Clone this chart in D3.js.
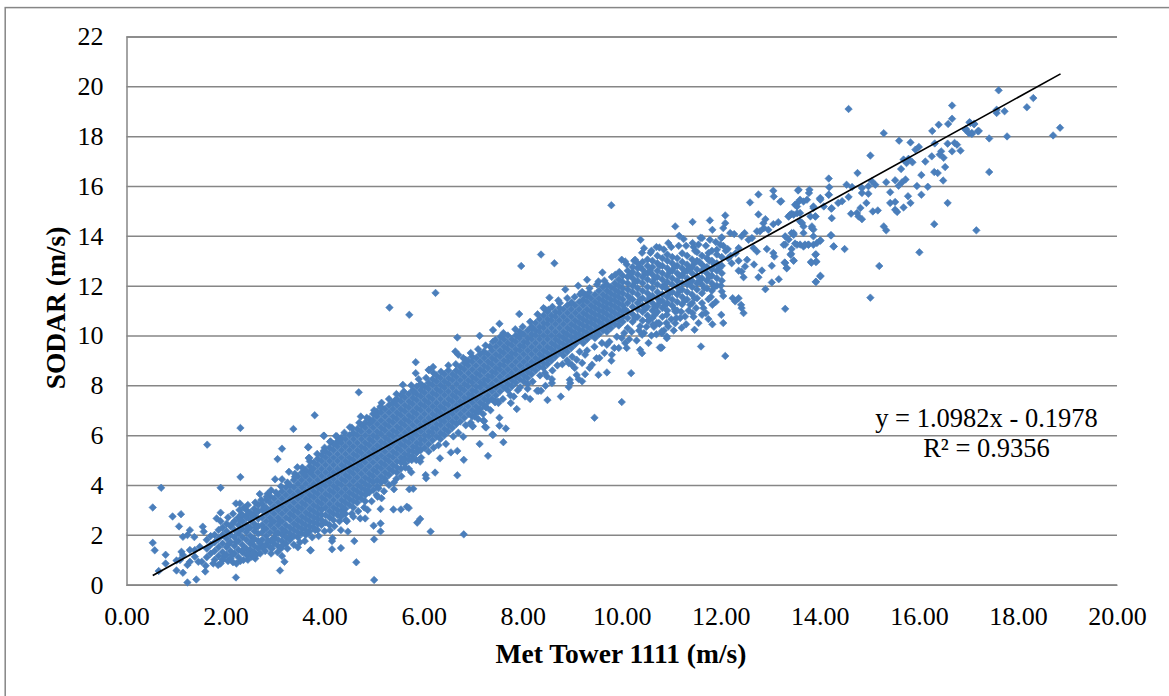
<!DOCTYPE html>
<html>
<head>
<meta charset="utf-8">
<style>
  body { margin: 0; background: #fff; }
  text { font-family: "Liberation Serif", serif; fill: #000; }
</style>
<script src="https://cdn.jsdelivr.net/npm/d3@7"></script>
</head>
<body>
<svg id="chart" width="1169" height="696"></svg>
<script>
const xTicks = [0, 2, 4, 6, 8, 10, 12, 14, 16, 18, 20]
const yTicks = [0, 2, 4, 6, 8, 10, 12, 14, 16, 18, 20, 22]
const trendX = [0.53, 18.86]
const trendY = [0.37, 20.5]
const equationLines = ["y = 1.0982x - 0.1978", "R² = 0.9356"]

const coreLow = [
  [1.62,[1.1,1.45,1.8]],[1.7,[1.25,1.6,1.95]],[1.78,[1.0,1.35,1.7,2.0]],[1.86,[1.15,1.5,1.85,2.2]],
  [1.94,[1.0,1.3,1.65,2.0,2.3]],[2.02,[1.2,1.5,1.85,2.15,2.45]],[2.1,[1.05,1.35,1.7,2.0,2.35]],
  [2.18,[1.25,1.55,1.9,2.2,2.55]],[2.26,[1.1,1.4,1.75,2.05,2.4,2.7]],[2.34,[1.3,1.6,1.9,2.25,2.55,2.8]],
  [2.42,[1.2,1.45,1.8,2.1,2.4,2.7,3.0]],[2.5,[1.4,1.65,1.95,2.3,2.6,2.9]],[2.58,[1.3,1.55,1.85,2.15,2.45,2.75,3.05]],
  [2.66,[1.45,1.75,2.05,2.35,2.65,2.95,3.2]],[2.74,[1.5,1.8,2.1,2.4,2.7,3.0,3.25]],[2.82,[1.6,1.95,2.25,2.55,2.85,3.1,3.4]],
  [2.9,[1.5,1.75,2.1,2.4,2.7,3.0,3.3,3.55]],[2.98,[1.65,1.9,2.25,2.55,2.85,3.15,3.45]],[3.06,[1.55,1.8,2.1,2.4,2.7,3.0,3.3,3.6]],
  [3.14,[1.75,2.0,2.25,2.55,2.85,3.15,3.45,3.75]],[3.22,[1.65,1.9,2.15,2.4,2.7,3.0,3.3,3.6,3.9]],
  [3.3,[1.85,2.05,2.3,2.6,2.85,3.15,3.45,3.75,4.0]],[3.38,[1.95,2.2,2.45,2.75,3.0,3.3,3.6,3.9,4.2]],
  [3.46,[1.9,2.1,2.35,2.6,2.9,3.15,3.45,3.75,4.05,4.35]],[3.54,[2.05,2.25,2.5,2.75,3.05,3.3,3.6,3.9,4.2,4.5]],
  [3.62,[2.0,2.2,2.4,2.65,2.9,3.2,3.45,3.75,4.05,4.35,4.6]],[3.7,[2.15,2.35,2.55,2.8,3.05,3.35,3.6,3.9,4.2,4.5,4.75]],
  [3.78,[2.3,2.5,2.7,2.95,3.2,3.5,3.75,4.05,4.35,4.65,4.9]],[3.86,[2.2,2.45,2.65,2.85,3.1,3.35,3.65,3.9,4.2,4.5,4.8,5.05]],
  [3.94,[2.4,2.6,2.8,3.0,3.25,3.5,3.8,4.05,4.35,4.65,4.95,5.2]]
]

const coreMid = [
  [4.02,[2.5,2.8,3.1,3.4,3.65,3.95,4.2,4.5,4.8,5.1,5.35]],[4.1,[2.7,2.95,3.25,3.55,3.8,4.1,4.35,4.65,4.95,5.25,5.5]],
  [4.18,[2.6,2.85,3.1,3.4,3.7,3.95,4.25,4.5,4.8,5.1,5.4,5.65]],[4.26,[2.8,3.0,3.25,3.55,3.85,4.1,4.4,4.65,4.95,5.25,5.55,5.75]],
  [4.34,[2.95,3.15,3.4,3.7,4.0,4.25,4.55,4.8,5.1,5.4,5.7,5.9]],[4.42,[2.85,3.05,3.3,3.55,3.85,4.15,4.4,4.7,4.95,5.25,5.55,5.85]],
  [4.5,[3.2,3.45,3.7,4.0,4.3,4.55,4.85,5.1,5.4,5.7,6.0]],[4.58,[3.1,3.35,3.6,3.85,4.15,4.45,4.7,5.0,5.25,5.55,5.85,6.1]],
  [4.66,[3.3,3.5,3.75,4.0,4.3,4.6,4.85,5.15,5.4,5.7,6.0,6.25]],[4.74,[3.45,3.65,3.9,4.15,4.45,4.75,5.0,5.3,5.55,5.85,6.15,6.4]],
  [4.82,[3.35,3.6,3.8,4.05,4.3,4.6,4.9,5.15,5.45,5.7,6.0,6.3,6.5]],[4.9,[3.7,3.95,4.2,4.45,4.75,5.05,5.3,5.6,5.85,6.15,6.45,6.65]],
  [4.98,[3.8,4.1,4.35,4.6,4.9,5.2,5.45,5.75,6.0,6.3,6.6,6.85]],[5.06,[3.95,4.2,4.5,4.75,5.05,5.35,5.6,5.9,6.15,6.45,6.75,6.95]],
  [5.14,[4.1,4.35,4.65,4.9,5.2,5.5,5.75,6.05,6.3,6.6,6.9,7.1]],[5.22,[4.25,4.5,4.8,5.05,5.35,5.65,5.9,6.2,6.45,6.75,7.05]],
  [5.3,[4.4,4.65,4.95,5.2,5.5,5.8,6.05,6.35,6.6,6.9,7.2]],[5.38,[4.55,4.8,5.1,5.35,5.65,5.95,6.2,6.5,6.75,7.05,7.3]],
  [5.46,[4.5,4.7,4.95,5.25,5.5,5.8,6.1,6.35,6.65,6.9,7.2,7.45]],[5.54,[4.65,4.9,5.1,5.4,5.65,5.95,6.25,6.5,6.8,7.05,7.35,7.6]],
  [5.62,[4.85,5.05,5.25,5.55,5.8,6.1,6.4,6.65,6.95,7.2,7.5]],[5.7,[5.0,5.2,5.4,5.7,5.95,6.25,6.55,6.8,7.1,7.35,7.65]],
  [5.78,[5.15,5.35,5.55,5.85,6.1,6.4,6.7,6.95,7.25,7.5,7.8]],[5.86,[5.3,5.5,5.7,6.0,6.25,6.55,6.85,7.1,7.4,7.65,7.95]],
  [5.94,[5.4,5.65,5.85,6.15,6.4,6.7,7.0,7.25,7.55,7.8,8.05]],[6.02,[5.5,5.8,6.0,6.3,6.55,6.85,7.15,7.4,7.7,7.95]],
  [6.1,[5.65,5.95,6.15,6.45,6.7,7.0,7.3,7.55,7.85,8.1]],[6.18,[5.8,6.1,6.3,6.6,6.85,7.15,7.45,7.7,8.0,8.25]],
  [6.26,[5.95,6.25,6.45,6.75,7.0,7.3,7.6,7.85,8.15,8.4]],[6.34,[5.85,6.1,6.4,6.6,6.9,7.15,7.45,7.75,8.0,8.3]],
  [6.42,[6.0,6.25,6.55,6.75,7.05,7.3,7.6,7.9,8.15,8.45]],[6.5,[6.15,6.4,6.7,6.9,7.2,7.45,7.75,8.05,8.3,8.6]],
  [6.58,[6.3,6.55,6.85,7.05,7.35,7.6,7.9,8.2,8.45]],[6.66,[6.45,6.7,7.0,7.2,7.5,7.75,8.05,8.35,8.6]],
  [6.74,[6.55,6.85,7.15,7.35,7.65,7.9,8.2,8.5,8.75]],[6.82,[6.7,7.0,7.3,7.5,7.8,8.05,8.35,8.65,8.9]],
  [6.9,[6.85,7.15,7.45,7.65,7.95,8.2,8.5,8.8,9.0]],[6.98,[6.75,7.0,7.3,7.6,7.8,8.1,8.35,8.65,8.95,9.15]],
  [7.06,[6.9,7.15,7.45,7.75,7.95,8.25,8.5,8.8,9.1]],[7.14,[7.05,7.3,7.6,7.9,8.1,8.4,8.65,8.95,9.25]],
  [7.22,[7.2,7.45,7.75,8.05,8.25,8.55,8.8,9.1]],[7.3,[7.35,7.6,7.9,8.2,8.4,8.7,8.95,9.25]],
  [7.38,[7.45,7.75,8.05,8.35,8.55,8.85,9.1,9.4]],[7.46,[7.6,7.9,8.2,8.5,8.7,9.0,9.25,9.55]],
  [7.54,[7.75,8.05,8.35,8.65,8.85,9.15,9.4,9.7]],[7.62,[7.9,8.2,8.5,8.8,9.0,9.3,9.55,9.85]],
  [7.7,[7.8,8.05,8.35,8.65,8.95,9.15,9.45,9.7]],[7.78,[7.95,8.2,8.5,8.8,9.1,9.3,9.6,9.85]],
  [7.86,[8.1,8.35,8.65,8.95,9.25,9.45,9.75,10.0]],[7.94,[8.25,8.5,8.8,9.1,9.4,9.6,9.9,10.15]]
]

const coreHigh = [
  [8.02,[8.15,8.4,8.65,8.95,9.25,9.55,9.75,10.05]],[8.1,[8.3,8.55,8.8,9.1,9.4,9.7,9.9,10.2]],
  [8.18,[8.45,8.7,8.95,9.25,9.55,9.85,10.05,10.35]],[8.26,[8.6,8.85,9.1,9.4,9.7,10.0,10.2,10.5]],
  [8.34,[8.75,9.0,9.25,9.55,9.85,10.15,10.35,10.65]],[8.42,[8.7,8.9,9.15,9.4,9.7,10.0,10.3,10.5,10.8]],
  [8.5,[8.85,9.05,9.3,9.55,9.85,10.15,10.45,10.65,10.95]],[8.58,[9.0,9.2,9.45,9.7,10.0,10.3,10.6,10.8]],
  [8.66,[9.15,9.35,9.6,9.85,10.15,10.45,10.75,10.95]],[8.74,[9.3,9.5,9.75,10.0,10.3,10.6,10.9,11.1]],
  [8.82,[9.2,9.45,9.65,9.9,10.15,10.45,10.75,11.05]],[8.9,[9.35,9.6,9.8,10.05,10.3,10.6,10.9,11.2]],
  [8.98,[9.5,9.75,9.95,10.2,10.45,10.75,11.05,11.3]],[9.06,[9.65,9.9,10.1,10.35,10.6,10.9,11.2]],
  [9.14,[9.8,10.05,10.25,10.5,10.75,11.05,11.35]],[9.22,[9.7,9.95,10.2,10.4,10.65,10.9,11.2,11.45]],
  [9.3,[9.85,10.1,10.35,10.55,10.8,11.05,11.35,11.6]],[9.38,[10.0,10.25,10.5,10.7,10.95,11.2,11.5]],
  [9.46,[9.9,10.15,10.4,10.65,10.85,11.1,11.35,11.65]],[9.54,[10.05,10.3,10.55,10.8,11.0,11.25,11.5,11.8]],
  [9.62,[10.2,10.45,10.7,10.95,11.15,11.4,11.65,11.95]],[9.7,[10.15,10.35,10.6,10.85,11.1,11.3,11.55,11.8,12.05]],
  [9.78,[10.3,10.5,10.75,11.0,11.25,11.45,11.7,11.95]],[9.86,[10.45,10.65,10.9,11.15,11.4,11.6,11.85,12.1]],
  [9.94,[10.4,10.6,10.8,11.05,11.3,11.55,11.75,12.0,12.25]],[10.02,[10.55,10.75,10.95,11.2,11.45,11.7,11.9,12.15,12.4]],
  [10.12,[10.3,10.7,10.95,11.3,11.6,11.85,12.1,12.35,12.6]],[10.22,[10.55,10.85,11.15,11.45,11.75,12.0,12.3,12.55,12.75]],
  [10.32,[10.75,11.05,11.3,11.65,11.9,12.2,12.45,12.7,12.9]],[10.42,[10.6,10.95,11.2,11.5,11.8,12.1,12.35,12.65,12.95]],
  [10.52,[10.8,11.15,11.4,11.7,11.95,12.25,12.5,12.8,13.05]],[10.62,[10.7,11.0,11.3,11.6,11.9,12.15,12.45,12.75,13.0]],
  [10.72,[10.95,11.2,11.5,11.75,12.05,12.35,12.6,12.9,13.2]],[10.82,[10.75,11.1,11.4,11.65,11.95,12.25,12.5,12.8,13.1]],
  [10.92,[11.0,11.3,11.55,11.85,12.15,12.4,12.7,13.0,13.25]],[11.02,[11.2,11.45,11.75,12.05,12.3,12.6,12.9,13.15]],
  [11.12,[11.0,11.35,11.65,11.95,12.2,12.5,12.8,13.1]],[11.22,[11.25,11.55,11.85,12.1,12.4,12.7,12.95,13.3]],
  [11.32,[11.45,11.75,12.05,12.3,12.6,12.85,13.2]],[11.42,[11.3,11.65,11.95,12.2,12.5,12.75,13.05]],
  [11.52,[11.5,11.85,12.1,12.4,12.65,13.0,13.35]],[11.62,[11.7,12.05,12.3,12.6,12.85,13.2]],
  [11.72,[11.9,12.2,12.5,12.75,13.1]],[11.82,[11.8,12.1,12.4,12.65,13.0,13.4]],
  [11.92,[12.0,12.3,12.6,12.9,13.25]],[12.02,[12.2,12.5,12.8,13.15]]
]

// edges of the cloud
const upperEdge = [
  [1.9,2.55],[2.05,2.7],[2.15,2.85],[2.28,3.0],[2.45,3.2],[2.6,3.3],[2.72,3.4],[2.85,3.65],[3.02,3.7],[3.12,3.95],
  [3.25,4.1],[3.4,4.45],[3.55,4.7],[3.7,4.95],[3.85,5.25],[4.0,5.5],[4.12,5.75],[4.25,5.95],[4.4,6.1],[4.55,6.3],
  [4.7,6.5],[4.85,6.7],[5.0,7.0],[5.15,7.3],[5.3,7.45],[5.45,7.65],[5.6,7.75],[5.75,8.0],[5.9,8.25],[6.05,8.3],
  [6.2,8.5],[6.35,8.55],[6.5,8.8],[6.65,8.85],[6.8,9.1],[6.95,9.3],[7.1,9.45],[7.25,9.6],[7.4,9.75],[7.55,9.95],
  [7.7,10.0],[7.85,10.25],[8.0,10.35],[8.15,10.55],[8.3,10.85],[8.45,11.05],[8.6,11.15],[8.75,11.3],[8.9,11.5],[9.05,11.55],
  [9.2,11.75],[9.35,11.9],[9.5,12.05],[9.65,12.2],[9.8,12.35],[9.95,12.55],[10.1,12.85],[10.25,13.0],[10.45,13.5],[10.6,13.4],
  [10.7,13.55],[10.85,13.45],[11.0,13.55],[11.15,13.6],[11.3,13.6],[11.45,13.55],[11.55,13.65],[11.7,13.6],[11.9,13.75],[12.05,13.6],
  [12.1,13.4],[12.15,13.1],[12.2,13.2],[12.3,13.3]
]

const lowerEdge = [
  [1.75,0.85],[1.9,0.85],[2.05,0.95],[2.15,0.9],[2.3,0.95],[2.45,1.0],[2.6,1.05],[2.7,1.25],[2.8,1.35],[2.92,1.25],
  [3.05,1.3],[3.12,1.45],[3.25,1.45],[3.38,1.6],[3.5,1.7],[3.6,1.75],[3.75,1.9],[3.88,1.95],[4.0,2.15],[4.1,2.4],
  [4.2,2.35],[4.3,2.55],[4.45,2.55],[4.55,2.85],[4.68,2.95],[4.8,3.1],[4.95,3.35],[5.05,3.6],[5.2,3.75],[5.3,4.0],
  [5.45,4.25],[5.55,4.35],[5.7,4.65],[5.85,5.0],[5.95,5.1],[6.1,5.35],[6.2,5.5],[6.3,5.6],[6.45,5.65],[6.6,5.95],
  [6.7,6.1],[6.85,6.4],[6.95,6.5],[7.1,6.65],[7.2,6.85],[7.35,7.0],[7.5,7.35],[7.6,7.45],[7.75,7.6],[7.9,7.8],
  [8.1,8.05],[8.2,8.15],[8.35,8.4],[8.45,8.5],[8.6,8.6],[8.7,8.8],[8.8,8.85],[8.9,9.0],[9.0,9.15],[9.05,8.7],
  [9.15,9.35],[9.2,8.9],[9.3,9.4],[9.35,8.7],[9.45,9.55],[9.55,9.1],[9.6,9.7],[9.65,9.3],[9.75,9.75],[9.85,9.5],
  [9.9,9.95],[10.0,9.9],[10.05,10.1],[10.15,9.85],[10.2,10.15],[10.3,9.8],[10.35,10.2],[10.45,10.1],[10.5,10.35],[10.6,10.0],
  [10.65,10.35],[10.7,10.05],[10.75,10.5],[10.85,10.2],[10.9,10.5],[11.0,10.65],[11.05,10.2],[11.1,10.7],[11.2,10.95],[11.3,10.45],
  [11.35,11.0],[11.45,10.75],[11.5,11.1],[11.55,10.5],[11.65,11.1],[11.7,10.9],[11.8,11.55],[11.9,11.35],[12.0,12.0]
]

const fillerLeft = [
  [1.98,1.15],[2.06,1.62],[2.14,1.2],[2.22,1.72],[2.3,2.2],[2.38,1.45],[2.46,2.25],[2.54,1.75],[2.62,2.3],[2.7,1.65],
  [2.78,2.25],[2.86,1.75],[2.94,2.55],[3.02,2.05],[3.1,2.55],[3.18,2.15],[2.46,1.25],[2.62,1.2],[2.78,1.55],[2.94,1.45],
  [2.14,2.45],[2.3,2.6],[2.46,2.85],[2.62,2.9],[2.78,3.1]
]

const fillerRight = [
  [10.17,11.5],[10.27,12.15],[10.37,11.45],[10.47,12.5],[10.57,11.55],[10.67,12.3],[10.77,11.35],[10.87,12.05],[10.97,11.7],
  [11.07,12.75],[11.17,11.8],[11.27,12.55],[11.37,12.15],[11.47,12.9],[11.57,12.2],[11.67,12.75],[11.77,12.35],[11.87,12.85],
  [10.07,11.05],[10.17,12.45],[10.27,10.7],[10.37,12.75],[10.47,11.05],[10.57,12.6],[10.67,11.15],[10.77,12.8],[10.87,11.2],
  [10.97,12.55],[11.07,11.05],[11.17,12.4],[11.27,11.4],[11.37,12.7],[11.47,11.5],[11.57,12.95],[11.67,11.9],[11.77,13.0],
  [11.87,11.95],[11.97,12.7]
]

// scattered points around the cloud
const scatterLow = [
  [2.3,6.29],[3.37,6.25],[3.99,5.98],[1.63,5.62],[3.14,5.46],[3.67,5.53],[3.05,5.04],[3.68,5.08],[2.3,4.32],[0.7,3.89],
  [1.9,3.89],[0.53,3.1],[0.93,2.74],[1.1,2.83],[1.06,2.34],[0.53,1.68],[0.57,1.38],[0.79,1.2],[0.79,0.85],[0.65,0.55],
  [1.01,0.97],[1.01,0.57],[1.14,0.48],[1.23,0.09],[1.41,0.21],[1.59,0.53],[2.21,0.29],[3.1,0.57],[3.19,0.92],[3.14,1.15],
  [3.46,1.5],[3.72,1.38],[1.28,2.19],[1.14,1.92],[1.23,1.99],[1.37,1.91],[1.54,2.33],[1.56,2.13],[1.82,2.66],[1.9,2.89],
  [1.11,1.32],[1.28,1.39],[1.14,1.19],[1.08,0.99],[1.23,0.79],[1.28,0.92],[1.38,1.12],[1.45,0.92],[1.52,0.92],[1.6,0.76],
  [1.38,1.39],[1.48,1.52],[2.21,3.26],[2.29,3.26],[2.37,3.1],[2.32,2.82],[2.53,2.79],[2.69,3.64],[2.92,3.79],[2.83,3.53],
  [3.0,4.23],[3.14,4.23],[3.28,4.53],[3.45,4.71],[3.4,4.33],[3.6,4.4],[3.72,4.51],[1.85,0.79],[1.95,1.01],[2.22,0.85],
  [2.36,0.99],[2.53,1.12],[2.59,1.19],[2.96,1.79],[3.16,1.59],[3.3,1.79],[4.69,7.72],[5.58,8.02],[5.97,7.99],[5.8,7.74],
  [3.8,6.8],[4.73,6.75],[5.13,7.15],[4.51,6.32],[3.98,5.98],[3.67,5.51],[3.69,5.09],[3.98,5.37],[4.23,5.97],[4.11,5.74],
  [4.3,5.77],[5.42,7.39],[5.04,6.81],[4.95,6.55],[5.84,8.49],[6.1,8.62],[5.84,8.93],[6.11,8.62],[6.19,8.74],[5.31,11.12],
  [5.71,10.83],[6.24,11.71],[6.68,9.92],[6.64,9.36],[6.7,9.23],[6.85,9.02]
]

const scatterBelow = [
  [7.4,6.01],[7.13,5.65],[7.3,5.17],[6.8,5.94],[6.81,5.01],[6.68,5.37],[6.55,5.31],[6.33,5.07],[6.68,4.39],[6.23,4.5],
  [6.04,4.4],[6.05,4.27],[5.75,4.51],[5.79,3.85],[5.71,3.83],[5.4,3.83],[5.4,4.1],[5.22,4.16],[5.66,3.13],[5.7,3.08],
  [5.54,3.02],[5.39,3.02],[5.13,3.04],[4.87,3.0],[5.15,3.47],[5.07,3.53],[5.93,2.64],[5.87,2.49],[6.14,2.13],[6.81,2.02],
  [5.13,2.46],[4.99,2.37],[5.13,2.14],[5.0,1.82],[4.6,1.75],[4.47,2.13],[4.33,2.19],[4.16,1.86],[4.15,1.75],[4.15,1.42],
  [4.33,1.47],[3.71,1.38],[4.64,0.9],[5.0,0.19],[3.67,2.06],[3.81,2.19],[4.11,2.19],[4.72,2.66],[4.82,2.66],[4.58,2.73],
  [4.38,2.86],[4.33,2.73],[4.43,2.6],[5.09,3.87],[4.87,3.73],[5.63,4.7],[5.76,5.0],[5.93,4.94],[5.59,5.01],[7.24,6.34],
  [6.99,6.37],[7.21,6.59],[7.26,7.11],[7.44,7.32],[7.53,6.7],[7.53,6.38],[7.66,6.27],[7.22,6.56],[7.26,6.31],[6.99,6.35],
  [7.39,6.03],[7.61,5.72],[7.11,6.95],[7.03,6.75],[7.51,7.29],[7.45,7.35],[7.26,7.13],[7.88,7.05],[7.76,7.29],[7.82,7.55],
  [8.15,7.45],[8.05,7.55],[8.77,7.55],[8.5,7.41],[8.96,8.09],[8.93,7.93],[9.09,8.42],[9.13,8.25],[9.2,8.16],[8.59,8.09],
  [8.46,7.98],[8.32,7.78],[8.37,7.78],[7.95,7.92],[8.1,7.86],[8.29,7.78],[8.49,8.36],[8.59,8.25],[8.95,8.22],[8.93,8.89],
  [8.99,8.83],[9.09,9.03],[9.26,9.23],[9.4,8.83],[9.49,9.09],[9.8,9.23],[9.79,8.99],[9.7,9.63],[9.94,9.5],[10.07,9.7],
  [10.1,9.5],[10.41,9.29],[10.37,9.43],[10.54,9.7],[10.79,9.5],[10.81,10.17],[10.91,9.96],[10.41,10.03],[10.37,10.37],
  [10.54,10.61],[10.71,10.5],[10.0,7.33],[9.45,6.7],[10.19,8.49],[9.7,8.52],[9.53,8.42],[9.26,8.45]
]

const scatterAbove = [
  [9.12,12.0],[8.86,11.85],[9.3,12.24],[8.54,11.52],[8.72,11.41],[8.99,11.33],[9.16,11.66],[9.26,11.64],[9.34,11.73],[7.93,10.86],
  [8.42,11.1],[8.52,11.03],[7.53,10.47],[7.4,10.22],[7.13,9.99],[7.61,10.1],[7.97,10.07],[8.19,10.3],[7.45,9.83],[7.22,9.36],
  [7.34,9.56],[9.79,15.23],[7.97,12.79],[8.37,13.25],[8.64,12.9],[9.61,12.53],[9.53,12.17],[9.87,12.44],[10.0,13.04],[10.07,12.97],
  [10.27,13.04],[10.41,13.32],[10.58,13.32],[11.59,13.92],[12.02,13.94]
]

const scatterEnd = [
  [12.76,15.66],[13.07,15.58],[13.06,15.81],[12.59,15.34],[13.2,15.37],[13.56,15.82],[13.78,15.72],[14.18,15.65],[14.0,15.49],[13.54,15.31],
  [13.67,15.38],[13.87,15.18],[14.24,15.11],[12.76,14.86],[12.09,14.82],[12.09,14.51],[12.05,14.31],[11.43,14.56],[11.08,14.38],[11.78,14.62],
  [11.83,14.24],[12.9,14.67],[12.86,14.51],[12.87,14.31],[12.96,14.24],[13.06,14.47],[13.16,14.55],[13.37,14.78],[13.43,14.89],[13.54,14.91],
  [13.6,14.58],[13.67,14.38],[13.84,14.31],[13.91,14.78],[14.24,14.71],[12.19,14.11],[12.27,14.07],[12.48,14.11],[12.42,13.98],[12.73,14.18],
  [12.79,14.18],[11.16,14.0],[11.25,13.87],[11.62,13.91],[11.78,13.84],[12.01,13.91],[11.99,13.64],[11.43,13.71],[10.94,13.71],[10.76,13.53],
  [10.38,13.84],[11.48,13.4],[11.75,13.31],[11.92,13.44],[12.14,13.47],[12.36,13.51],[12.56,13.84],[12.63,13.91],[12.66,13.51],[12.73,13.37],
  [12.93,13.47],[13.06,13.31],[13.08,13.17],[13.3,13.98],[13.27,13.64],[13.43,14.11],[13.47,14.04],[13.43,13.47],[13.41,13.24],[13.47,13.01],
  [13.54,13.64],[13.67,13.57],[13.77,13.64],[13.87,13.64],[14.01,13.8],[14.22,14.02],[14.28,13.57],[13.91,13.24],[13.93,12.97],[13.82,12.95],
  [13.29,12.93],[13.33,12.7],[13.03,12.8],[12.67,12.85],[12.36,13.0],[12.22,12.9],[12.53,13.04],[12.49,12.77],[12.42,12.57],[12.36,12.6],
  [12.46,12.34],[12.83,12.61],[12.76,12.34],[13.17,12.26],[13.03,12.13],[12.9,11.86],[14.01,12.4],[13.92,12.16],[13.3,11.07],[12.24,11.5],
  [12.36,11.5],[12.29,11.37],[12.41,11.23],[12.42,11.1],[12.46,10.9],[12.01,10.83],[12.05,10.5],[11.75,11.46],[11.83,11.23],[12.05,11.59],
  [12.02,11.77],[11.62,10.83],[11.75,10.66],[11.83,10.45],[11.21,10.31],[11.08,10.49],[10.94,10.36],[11.47,10.23],[11.6,9.56],[12.09,9.18],
  [10.77,9.52],[10.81,9.52],[10.91,9.89],[10.81,10.09],[10.76,10.47],[10.63,10.43],[10.54,10.59],[11.28,10.76],[11.18,10.7],[11.43,10.9],
  [11.62,11.3],[11.38,11.23],[11.08,10.96],[10.91,10.83],[10.67,10.83]
]

const scatterTop = [
  [14.58,19.09],[16.67,19.23],[16.67,18.7],[15.29,18.12],[16.4,18.46],[16.59,18.49],[16.27,18.21],[17.02,18.56],[17.11,18.49],[16.95,18.29],
  [17.07,18.13],[17.19,18.2],[15.6,17.82],[15.83,17.75],[16.32,17.71],[16.58,17.7],[16.72,17.73],[16.77,17.66],[16.0,17.57],[15.93,17.46],
  [16.84,17.42],[16.67,17.39],[16.45,17.39],[16.42,17.26],[16.26,17.19],[16.5,17.13],[15.02,17.22],[15.69,17.06],[15.79,17.09],[15.87,16.95],
  [15.75,16.92],[16.13,16.98],[16.53,16.76],[15.64,16.68],[14.76,16.52],[16.31,16.56],[16.38,16.52],[16.05,16.44],[14.18,16.3],[16.49,16.22],
  [15.34,16.15],[15.52,16.23],[15.73,16.26],[15.66,16.15],[15.59,16.01],[15.05,16.19],[15.12,16.05],[14.85,15.92],[14.98,15.99],[14.54,16.05],
  [14.65,15.96],[16.18,15.97],[15.96,16.0],[14.19,15.95],[13.79,15.85],[13.57,15.85],[15.42,15.75],[16.05,15.65],[15.78,15.59],[15.83,15.32],
  [15.69,15.14],[15.42,15.32],[15.52,15.36],[15.52,15.05],[15.56,14.96],[16.58,15.32],[14.18,15.65],[14.01,15.52],[14.58,15.56],[14.85,15.72],
  [14.98,15.69],[14.94,15.32],[14.37,15.32],[14.23,15.09],[14.45,15.39],[14.82,15.12],[14.75,14.92],[14.85,14.67],[14.63,14.89],[14.78,14.78],
  [15.07,14.98],[15.17,15.02],[16.31,14.47],[15.29,14.38],[15.34,14.22],[17.16,14.22],[14.23,14.02],[14.28,13.58],[14.5,13.47],[16.01,13.34],
  [15.2,12.79],[14.01,12.37],[13.92,12.15],[13.92,13.26],[13.92,12.95],[13.83,12.92],[13.47,13.0],[13.3,12.91],[13.33,12.71],[13.42,13.28],
  [15.02,11.52],[13.5,15.25],[13.6,15.45],[13.74,15.45],[13.54,15.18],[13.4,14.85],[13.37,14.78],[13.47,14.85],[13.6,14.92],[13.81,14.78],
  [13.91,14.78],[13.87,15.12],[14.08,15.18],[14.01,15.45],[13.64,14.52],[13.84,14.38],[13.87,14.25],[13.67,14.11],[13.47,14.11],[13.6,13.65],
  [13.7,13.65],[13.77,13.65],[13.87,13.98],[14.01,13.82],[13.94,13.71],[13.5,13.69],[13.3,13.65],[13.37,13.85],[13.22,15.39],[17.61,19.84],
  [18.31,19.53],[18.18,19.16],[17.57,19.06],[17.57,18.93],[17.73,19.0],[18.85,18.34],[18.71,18.03],[17.78,17.99],[17.42,17.91],[17.42,16.56],
  [17.21,18.21],[17.12,18.49],[17.04,18.53],[16.94,18.26],[17.01,18.12],[17.07,18.09]
]

const columns = coreLow.concat(coreMid, coreHigh)
const points = columns.flatMap(([x, ys]) => ys.map(y => [x, y]))
  .concat(upperEdge, lowerEdge, fillerLeft, fillerRight, scatterLow, scatterBelow, scatterAbove, scatterEnd, scatterTop)

const gridColor = "#868686"
const svg = d3.select("#chart")

const xScale = d3.scaleLinear().domain([0, 20]).range([126.5, 1117])
const yScale = d3.scaleLinear().domain([0, 22]).range([584.7, 36.5])
const plotWidth = xScale.range()[1] - xScale.range()[0]

// frame of the chart, runs off the right and bottom of the page
svg.append("rect")
  .attr("x", 5.2).attr("y", 7.6)
  .attr("width", 1300).attr("height", 900)
  .attr("fill", "none")
  .attr("stroke", gridColor)
  .attr("stroke-width", 1.5)

const yAxis = svg.append("g")
  .attr("transform", "translate(" + xScale(0) + ",0)")
  .call(d3.axisLeft(yScale).tickValues(yTicks).tickSize(-plotWidth).tickPadding(23))

const xAxis = svg.append("g")
  .attr("transform", "translate(0," + yScale(0) + ")")
  .call(d3.axisBottom(xScale).tickValues(xTicks).tickSize(0).tickPadding(21.8).tickFormat(d3.format(".2f")))

yAxis.selectAll("line").attr("stroke", gridColor).attr("stroke-width", 1.5)
svg.selectAll(".domain").attr("stroke", gridColor).attr("stroke-width", 1.5)
svg.selectAll(".tick text").style("font-family", '"Liberation Serif", serif').style("font-size", "26px").attr("fill", "#000")

const marker = d3.symbol().type(d3.symbolSquare).size(28)

svg.append("g")
  .selectAll("path")
  .data(points)
  .enter()
  .append("path")
  .attr("d", marker)
  .attr("fill", "#4a7ebb")
  .attr("stroke", "#4a7ebb")
  .attr("stroke-width", 0.6)
  .attr("transform", d => "translate(" + xScale(d[0]) + "," + yScale(d[1]) + ") rotate(45)")

const line = d3.line()
  .x(d => xScale(d))
  .y((d, i) => yScale(trendY[i]))

svg.append("path")
  .attr("d", line(trendX))
  .attr("fill", "none")
  .attr("stroke", "#000")
  .attr("stroke-width", 1.7)

svg.selectAll(".equation")
  .data(equationLines)
  .enter()
  .append("text")
  .attr("class", "equation")
  .attr("x", 986.5)
  .attr("y", (d, i) => 426.5 + i * 30.5)
  .attr("text-anchor", "middle")
  .style("font-size", "26.5px")
  .text(d => d)

svg.append("text")
  .attr("x", 621)
  .attr("y", 663)
  .attr("text-anchor", "middle")
  .style("font-size", "27.5px")
  .style("font-weight", "bold")
  .text("Met Tower 1111 (m/s)")

svg.append("text")
  .attr("transform", "translate(64.5,308) rotate(-90)")
  .attr("text-anchor", "middle")
  .style("font-size", "27.5px")
  .style("font-weight", "bold")
  .text("SODAR (m/s)")
</script>
</body>
</html>
